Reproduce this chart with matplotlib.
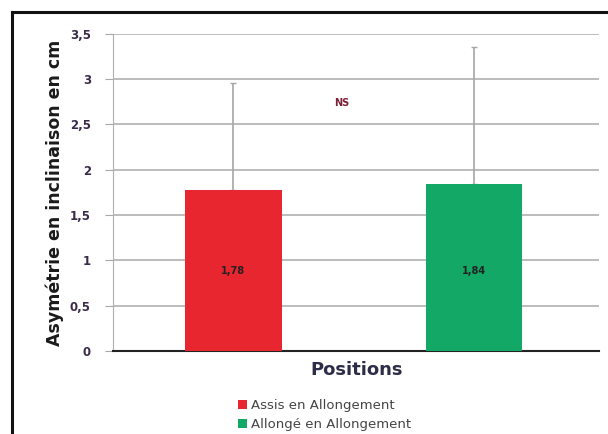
import matplotlib.pyplot as plt
from matplotlib.lines import Line2D
from matplotlib.patches import Patch
from matplotlib.ticker import FuncFormatter

positions = ["Assis en Allongement", "Allongé en Allongement"]
means = [1.78, 1.84]
sd = [1.18, 1.52]
colors = ["#E8262F", "#13A865"]
yticks = [0, 0.5, 1, 1.5, 2, 2.5, 3, 3.5]


def comma(v, _pos=None):
    return f"{v:g}".replace(".", ",")


fig = plt.figure(figsize=(6.08, 4.34), dpi=100)
ax = fig.add_axes([0.186, 0.191, 0.80, 0.731])

x = range(len(means))
ax.bar(x, means, width=0.40, color=colors, zorder=3)
ax.errorbar(x, means, yerr=[[0, 0], sd], fmt="none", ecolor="#a6a6a6",
            elinewidth=1.2, capsize=2, capthick=1, zorder=2)

for xi, m in zip(x, means):
    ax.text(xi, 0.88, f"{m:.2f}".replace(".", ","), ha="center", va="center",
            fontsize=7, fontweight="bold", color="#222222", zorder=4)

ax.text(0.45, 2.74, "NS", ha="center", va="center", fontsize=7,
        fontweight="bold", color="#7a1f35")

ax.set_xlim(-0.5, 1.52)
ax.set_ylim(0, 3.5)
ax.set_yticks(yticks)
ax.yaxis.set_major_formatter(FuncFormatter(comma))
ax.set_xticks([])
ax.tick_params(axis="y", length=6, color="#a6a6a6", labelsize=8.5,
               labelcolor="#3a2a4a", pad=10)
for lbl in ax.get_yticklabels():
    lbl.set_fontweight("bold")
ax.grid(axis="y", color="#b0b0b0", linewidth=1.2, zorder=0)

for side in ("top", "right"):
    ax.spines[side].set_visible(False)
ax.spines["left"].set_color("#b0b0b0")
ax.spines["bottom"].set_color("#222222")
ax.spines["bottom"].set_linewidth(1.5)

ax.set_ylabel("Asymétrie en inclinaison en cm", fontsize=12.5,
              fontweight="bold", color="#1a1a1a", labelpad=4)
ax.set_xlabel("Positions", fontsize=13, fontweight="bold", color="#2d2d4a",
              labelpad=7)

handles = [Patch(facecolor=c, edgecolor="none") for c in colors]
fig.legend(handles, positions, loc="upper left", bbox_to_anchor=(0.38, 0.095),
           frameon=False, fontsize=9.5, handlelength=0.7, handleheight=0.7,
           handletextpad=0.3, labelspacing=0.45, borderpad=0,
           labelcolor="#444444")

# outer frame around the chart
fig.add_artist(Line2D([0.02, 0.02], [0, 0.972], color="#111111", lw=2.2,
                      transform=fig.transFigure))
fig.add_artist(Line2D([0.02, 1.0], [0.972, 0.972], color="#111111", lw=2.2,
                      transform=fig.transFigure))

fig.savefig("out.png", dpi=100)
